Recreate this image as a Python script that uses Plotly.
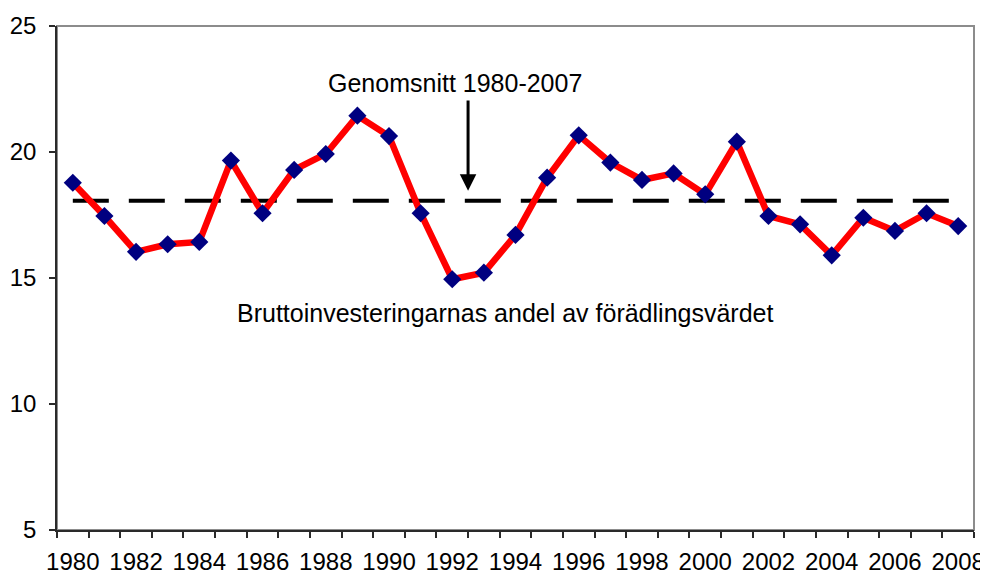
import plotly.graph_objects as go

years = list(range(1980, 2009))
share = [18.78, 17.46, 16.04, 16.34, 16.43, 19.66, 17.57, 19.29, 19.92, 21.44,
         20.63, 17.57, 14.95, 15.21, 16.71, 18.98, 20.66, 19.58, 18.89, 19.15,
         18.32, 20.41, 17.46, 17.13, 15.90, 17.39, 16.87, 17.57, 17.06]
average_1980_2007 = 18.07
tick_years = list(range(1980, 2009, 2))
y_ticks = [5, 10, 15, 20, 25]

label_avg = "Genomsnitt 1980-2007"
label_series = "Bruttoinvesteringarnas andel av förädlingsvärdet"

FONT = "Liberation Sans, Arial, sans-serif"
AXIS = "#2a2a2a"

fig = go.Figure()

fig.add_trace(go.Scatter(
    x=years, y=[average_1980_2007] * len(years), mode="lines",
    line=dict(color="black", width=4, dash="36px,20px"),
    hoverinfo="skip", showlegend=False))

fig.add_trace(go.Scatter(
    x=years, y=share, mode="lines+markers",
    line=dict(color="#FF0000", width=6.5),
    marker=dict(symbol="diamond", size=14, color="#000080", line=dict(width=0)),
    showlegend=False))

fig.add_shape(type="rect", xref="paper", yref="paper", x0=0, x1=1, y0=0, y1=1,
              line=dict(color="#8c8c8c", width=2), layer="below")

fig.add_annotation(x=1992.1, y=22.74, text=label_avg, showarrow=False,
                   font=dict(family=FONT, size=25, color="black"))
fig.add_annotation(x=1993.67, y=13.61, text=label_series, showarrow=False,
                   font=dict(family=FONT, size=25, color="black"))
fig.add_annotation(x=1992.5, y=18.46, ax=1992.5, ay=22.1, axref="x", ayref="y",
                   text="", showarrow=True, arrowhead=2, arrowwidth=3,
                   arrowsize=1.1, arrowcolor="black", standoff=0)

fig.update_xaxes(
    range=[1979.5, 2008.5], tickmode="array", tickvals=tick_years,
    ticktext=[str(y) for y in tick_years], ticks="", showgrid=False,
    zeroline=False, showline=True, linecolor=AXIS, linewidth=1.5,
    automargin=False,
    tickfont=dict(family=FONT, size=24, color="black"), ticklabelstandoff=9,
    minor=dict(ticks="outside", ticklen=6, tickcolor=AXIS, tickwidth=1.5,
               tickmode="linear", tick0=1979.5, dtick=1, showgrid=False))
fig.update_yaxes(
    range=[5, 25], tickmode="array", tickvals=y_ticks, ticks="outside",
    ticklen=6, tickcolor=AXIS, tickwidth=1.5, showgrid=False, zeroline=False,
    showline=True, linecolor=AXIS, linewidth=1.5, automargin=False,
    tickfont=dict(family=FONT, size=24, color="black"), ticklabelstandoff=8)

# page body has an 8px margin, so the figure is 8px smaller and shifted
fig.update_layout(
    width=980, height=568, margin=dict(l=49, r=14, t=18, b=46),
    plot_bgcolor="white", paper_bgcolor="white", showlegend=False)

fig.write_html("out.html")
